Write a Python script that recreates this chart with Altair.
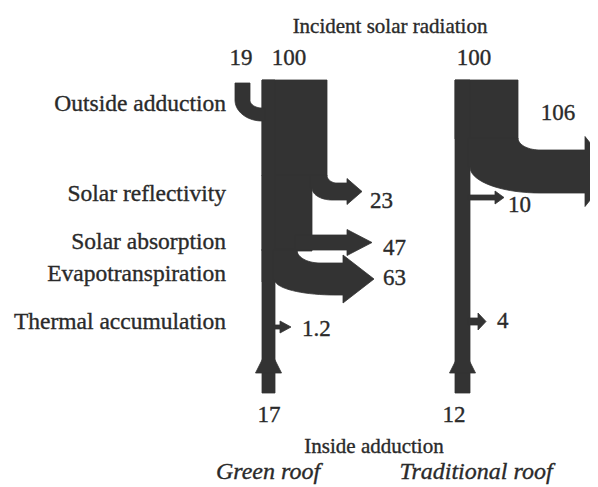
import math
import altair as alt
import pandas as pd

# ------------------------------------------------------------------ data
roof_names = ["Green roof", "Traditional roof"]
side_labels = ["Outside adduction", "Solar reflectivity", "Solar absorption",
               "Evapotranspiration", "Thermal accumulation"]
top_title = "Incident solar radiation"
bottom_title = "Inside adduction"

green_incident = 100
green_outside = 19
green_out_values = [23, 47, 63, 1.2]      # reflectivity, absorption, evapotranspiration, accumulation
green_inside = 17

trad_incident = 100
trad_out_values = [106, 10, 4]           # upper outflow, reflectivity, accumulation
trad_inside = 12

# ------------------------------------------------------------------ layout (diagram units = page pixels)
INK = "#333333"
TXT = "#2a2a2a"
SERIF = "'Liberation Serif', 'Times New Roman', Times, serif"


def ell(cx, cy, rx, ry, a0, a1, n=18):
    pts = []
    for k in range(n + 1):
        a = math.radians(a0 + (a1 - a0) * k / n)
        pts.append((cx + rx * math.cos(a), cy + ry * math.sin(a)))
    return pts


def rect(x0, y0, x1, y1):
    return [(x0, y0), (x1, y0), (x1, y1), (x0, y1)]


def out_band(xt, yt, rxt, ryt, xb0, yb0, rxb, ryb, xbase, half, hlen):
    top_y = yt + ryt
    bot_y = yb0 + ryb
    yc = (top_y + bot_y) / 2
    pts = [(xb0 - 2, yt)]
    pts += ell(xt + rxt, yt, rxt, ryt, 180, 90)
    pts += [(xbase, top_y), (xbase, yc - half), (xbase + hlen, yc), (xbase, yc + half), (xbase, bot_y)]
    pts += ell(xb0 + rxb, yb0, rxb, ryb, 90, 180)
    pts += [(xb0 - 2, yb0)]
    return pts, (xbase + hlen, yc)


def up_head(xc, ybase, half, length):
    return [(xc - half, ybase), (xc, ybase - length), (xc + half, ybase)]


shapes = []
labels = []  # (text, x, y, align, size, italic)

# ---- green roof
gx0, gx1, gtop, gbot, gtrunk = 262, 327, 80, 393, 275
shapes.append(rect(gx0, gtop, gx1, 176))
shapes.append(rect(gx0, 175, 312, 251))
shapes.append(rect(gx0, 249, 297, 282))
shapes.append(rect(gx0, gtop, gtrunk, gbot))
# outside adduction (inflow from top-left)
shapes.append([(235, 83), (250, 83)] + ell(262, 100, 12, 8, 180, 90)
              + [(265, 108), (265, 121)] + ell(262, 100, 27, 21, 90, 180))
green_arrow_specs = [
    dict(g=(327, 175, 10, 8, 312, 188, 20, 12, 347, 13, 15), gap=8, base=208),
    dict(g=(312, 235, 0, 0, 297, 250, 0, 0, 347, 13, 25), gap=11, base=255),
    dict(g=(297, 250, 23, 13, 275, 280, 60, 15, 343, 24, 31), gap=9, base=285),
    dict(g=(275, 325, 0, 0, 275, 329, 0, 0, 280, 6, 11), gap=11, base=336),
]
for v, spec in zip(green_out_values, green_arrow_specs):
    pts, tip = out_band(*spec["g"])
    shapes.append(pts)
    labels.append((f"{v:g}", tip[0] + spec["gap"], spec["base"], "left", 23, False))
shapes.append(up_head((gx0 + gtrunk) / 2, 373, 13, 26))

labels.append((f"{green_outside:g}", 241, 65, "center", 23, False))
labels.append((f"{green_incident:g}", 289, 65, "center", 23, False))
labels.append((f"{green_inside:g}", 269, 422, "center", 23, False))

# ---- traditional roof
tx0, tx1, ttop, tbot, ttrunk = 455, 518, 80, 393, 470
shapes.append(rect(tx0, ttop, tx1, 139))
shapes.append(rect(tx0, ttop, ttrunk, tbot))
trad_arrow_specs = [
    dict(g=(518, 138, 22, 12, 470, 167, 70, 26, 585, 35, 28), lab=(558, 120, "center")),
    dict(g=(470, 195, 0, 0, 470, 200, 0, 0, 495, 6.5, 9), gap=4, base=212),
    dict(g=(470, 318, 0, 0, 470, 325, 0, 0, 478, 8.5, 8), gap=11, base=328),
]
for v, spec in zip(trad_out_values, trad_arrow_specs):
    pts, tip = out_band(*spec["g"])
    shapes.append(pts)
    if "lab" in spec:
        lx, ly, la = spec["lab"]
        labels.append((f"{v:g}", lx, ly, la, 23, False))
    else:
        labels.append((f"{v:g}", tip[0] + spec["gap"], spec["base"], "left", 23, False))
shapes.append(up_head((tx0 + ttrunk) / 2, 373, 13, 26))

labels.append((f"{trad_incident:g}", 474, 65, "center", 23, False))
labels.append((f"{trad_inside:g}", 454, 422, "center", 23, False))

# ---- side labels, titles, roof names
side_baselines = [111, 201, 249, 281, 329]
for t, b in zip(side_labels, side_baselines):
    labels.append((t, 226, b, "right", 23.5, False))
labels.append((top_title, 390, 33, "center", 21, False))
labels.append((bottom_title, 374, 453, "center", 21, False))
labels.append((roof_names[0], 268, 479, "center", 24, True))
labels.append((roof_names[1], 476, 479, "center", 24, True))

# ------------------------------------------------------------------ frames
rows = []
for sid, pts in enumerate(shapes):
    for i, (x, y) in enumerate(pts + [pts[0]]):
        rows.append({"shape": f"s{sid:02d}", "i": i, "x": x, "y": y})
poly_df = pd.DataFrame(rows)
lab_df = pd.DataFrame(labels, columns=["text", "x", "y", "align", "size", "italic"])

H = 479
xs = alt.Scale(domain=[8, 590], nice=False, zero=False)
ys = alt.Scale(domain=[8, 8 + H], nice=False, zero=False, reverse=True)
X = alt.X("x:Q", scale=xs, axis=None)
Y = alt.Y("y:Q", scale=ys, axis=None)

poly = alt.Chart(poly_df).mark_line(
    filled=True, fill=INK, stroke=INK, strokeWidth=0.8, strokeJoin="miter"
).encode(x=X, y=Y, detail="shape:N", order="i:Q")

layers = [poly]
for (al, it), sub in lab_df.groupby(["align", "italic"]):
    layers.append(
        alt.Chart(sub.drop(columns=["align", "italic"])).mark_text(
            align=al, baseline="alphabetic", font=SERIF, color=TXT,
            stroke=TXT, strokeWidth=0.35,
            fontStyle="italic" if it else "normal",
        ).encode(x=X, y=Y, text="text:N", size=alt.Size("size:Q", scale=None, legend=None))
    )

chart = alt.layer(*layers).properties(
    width=582, height=H, padding=0, autosize=alt.AutoSizeParams(type="none")
).configure_view(stroke=None)

chart.save("out.html", embed_options={"renderer": "svg", "actions": False})
